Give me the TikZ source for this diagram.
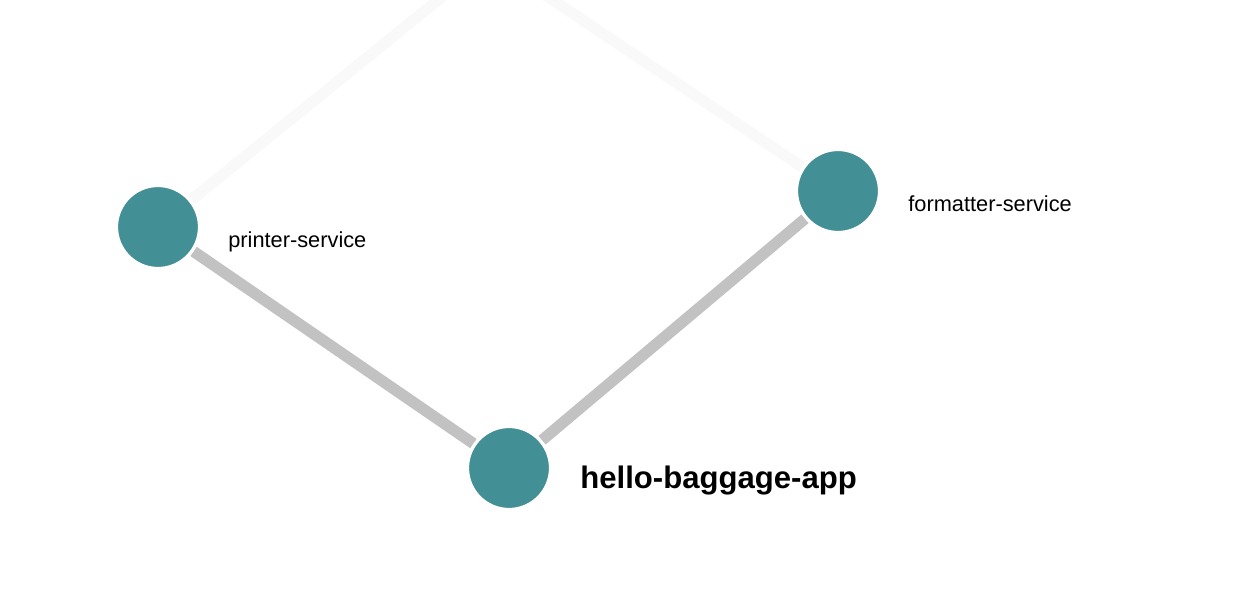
\documentclass[tikz,border=0pt]{standalone}
\usepackage{fontspec}
\setmainfont{Liberation Sans}
\usepackage{tikz}
\usetikzlibrary{positioning, backgrounds, calc}
\definecolor{svcteal}{HTML}{438F96}
\definecolor{linkgray}{HTML}{C2C2C2}
\definecolor{fadegray}{HTML}{F9F9F9}

\begin{document}
\begin{tikzpicture}[
  x=0.02cm, y=-0.02cm,
  svc/.style={circle, fill=svcteal, draw=white, line width=1.8pt, minimum size=1.66cm, inner sep=0pt},
  link/.style={linkgray, line width=6.4pt},
  fadedlink/.style={fadegray, line width=6.4pt},
  lbl/.style={anchor=base west, inner sep=0pt, font=\fontsize{12.4pt}{14pt}\selectfont},
  mainlbl/.style={lbl, font=\fontsize{17.7pt}{20pt}\selectfont\bfseries}
]
\clip (0,0) rectangle (1234,614);
\node[svc] (printer) at (158,227) {};
\node[svc] (formatter) at (838,191) {};
\node[svc] (hello) at (509,468) {};
\coordinate (upstream) at (490,-42);
\node[lbl] (printer-lbl) at ($(printer)+(70,21)$) {printer-service};
\node[lbl] (formatter-lbl) at ($(formatter)+(70,21)$) {formatter-service};
\node[mainlbl] (hello-lbl) at ($(hello)+(71,21)$) {hello-baggage-app};
\begin{scope}[on background layer]
\draw[fadedlink] (printer) -- (upstream);
\draw[fadedlink] (formatter) -- (upstream);
\draw[link] (printer) -- (hello);
\draw[link] (formatter) -- (hello);
\end{scope}
\end{tikzpicture}
\end{document}
